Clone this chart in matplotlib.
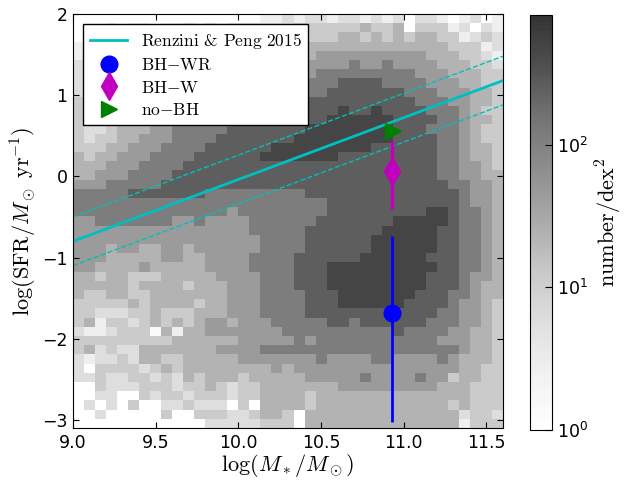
import os
import numpy as np
import matplotlib
matplotlib.use("Agg")
import matplotlib.pyplot as plt
from matplotlib.colors import LogNorm
from matplotlib.lines import Line2D
from matplotlib.font_manager import FontProperties

plt.rcParams["mathtext.fontset"] = "cm"
plt.rcParams["font.family"] = "DejaVu Sans"
plt.rcParams["xtick.direction"] = "in"
plt.rcParams["ytick.direction"] = "in"
plt.rcParams["xtick.top"] = True
plt.rcParams["ytick.right"] = True
plt.rcParams["xtick.major.size"] = 4
plt.rcParams["ytick.major.size"] = 4

cmr10 = os.path.join(matplotlib.get_data_path(), "fonts", "ttf", "cmr10.ttf")

# histogram bins (log M*, log SFR)
mass_edges = np.linspace(9.0, 11.6, 40)
sfr_edges = np.linspace(-3.1, 2.0, 46)

# grey level of every cell, top row first ('.' = empty)
# level -> number/dex^2
level_density = [1.4, 2.7, 5.8, 11.6, 22.6, 46, 118, 251, 472, 720]
cell_levels = [
    ". . . . . . . . . . . . . . . . . 1 1 2 1 2 2 1 2 2 1 2 1 2 . 2 2 1 . 1 2 . 1",
    ". . . 1 . 1 1 . 1 1 2 1 2 1 2 2 2 2 2 2 3 3 3 3 3 3 4 3 3 4 . 3 3 3 1 2 . 2 1",
    ". 1 . 1 1 1 2 1 2 2 2 2 2 2 2 3 3 3 3 3 3 3 3 3 4 4 3 4 3 4 3 4 4 3 3 1 2 3 2",
    "1 1 1 1 2 2 2 2 2 2 3 3 3 3 3 3 3 3 3 4 4 4 4 4 4 4 4 4 4 4 4 4 4 4 3 3 3 1 2",
    "1 1 2 2 2 2 2 3 3 3 3 3 3 4 4 4 4 4 4 4 4 4 5 5 5 5 5 5 5 5 5 5 4 4 4 3 3 2 1",
    "2 2 2 2 2 3 3 3 3 3 4 4 4 4 4 4 4 5 5 5 5 5 5 5 5 6 5 5 6 5 5 5 5 4 4 4 3 3 2",
    "2 2 2 3 3 3 3 3 4 4 4 4 4 5 5 5 5 5 5 5 5 5 6 6 6 6 6 6 6 6 6 5 5 5 4 4 4 3 3",
    "2 2 3 3 3 3 4 4 4 4 4 5 5 5 5 5 5 6 6 6 6 6 6 6 7 7 7 7 6 6 6 6 5 5 5 4 4 3 3",
    "2 3 3 3 3 4 4 4 4 5 5 5 5 5 6 6 6 6 6 6 6 6 6 7 7 7 7 7 7 7 6 6 6 5 5 5 4 4 3",
    "3 3 3 3 4 4 4 5 5 5 5 5 6 6 6 6 6 6 6 7 7 7 7 7 7 7 7 7 7 7 7 6 6 6 5 5 4 4 3",
    "3 3 3 4 4 4 5 5 5 5 6 6 6 6 6 6 7 7 7 7 7 7 7 7 8 7 7 8 7 7 7 7 6 6 6 5 4 3 3",
    "3 3 3 4 4 4 5 5 5 6 6 6 6 6 6 7 7 7 7 7 7 7 7 8 8 8 8 8 8 7 7 7 7 6 6 5 4 4 3",
    "3 2 2 3 4 4 4 5 5 6 6 6 6 6 7 7 7 7 7 7 7 8 8 8 8 8 8 8 8 7 7 7 6 6 6 5 4 3 3",
    "3 2 3 3 4 4 5 5 5 6 6 6 6 7 7 7 7 7 7 7 8 8 8 8 8 8 8 8 8 7 7 7 7 6 6 5 4 3 3",
    "3 3 3 4 4 5 5 5 6 6 6 6 7 7 7 7 7 7 8 8 8 8 8 8 8 8 8 7 7 7 7 7 7 6 6 5 4 4 3",
    "4 3 4 4 5 5 5 6 6 6 6 7 7 7 7 7 7 8 8 8 8 8 8 8 7 7 7 7 7 7 7 7 7 6 6 5 4 4 3",
    "4 4 4 5 5 5 6 6 6 6 7 7 7 7 7 7 7 7 7 7 7 7 7 7 7 7 7 7 7 7 7 7 7 6 6 5 5 4 3",
    "4 4 5 5 5 6 6 6 6 7 7 7 7 7 7 7 7 7 7 7 7 7 7 7 7 7 7 7 7 7 7 7 7 6 6 5 5 4 4",
    "5 5 5 6 6 6 6 6 7 7 7 7 7 7 7 7 7 7 7 7 7 7 7 7 7 7 7 7 7 7 7 7 7 7 6 6 5 5 4",
    "6 6 6 6 6 7 7 7 7 7 7 7 6 6 6 6 6 6 6 6 6 7 7 7 7 7 7 7 7 7 7 7 7 7 7 6 5 5 4",
    "6 6 6 6 6 6 6 6 6 6 6 6 6 6 6 6 6 6 6 6 6 6 6 7 7 7 7 7 7 7 7 7 7 7 7 6 5 5 4",
    "6 6 6 6 6 6 6 6 6 6 6 6 6 6 5 6 6 6 6 6 6 6 6 7 7 7 7 7 7 7 7 7 8 8 7 6 6 5 4",
    "5 5 6 6 6 6 6 6 6 5 5 6 5 5 5 5 6 6 6 6 6 6 7 7 7 7 7 7 7 8 8 8 8 8 7 6 6 5 4",
    "5 5 5 5 5 5 5 5 5 5 5 5 5 5 5 5 6 6 6 6 6 7 7 7 7 7 7 7 8 8 8 8 8 7 7 6 6 5 4",
    "5 5 5 5 5 5 5 5 5 5 5 5 5 5 5 5 5 6 6 6 6 7 7 7 7 7 7 8 8 8 8 8 8 7 7 6 6 5 4",
    "5 5 5 4 5 5 4 4 5 5 4 5 5 5 5 5 5 6 6 6 6 7 7 7 7 7 7 8 8 8 8 8 8 7 7 6 6 5 4",
    "5 5 5 4 4 4 4 4 5 5 4 4 5 5 5 5 6 6 6 6 7 7 7 7 7 7 8 8 8 8 8 8 7 7 7 6 6 5 4",
    "5 5 4 4 4 4 5 4 4 4 4 4 5 5 5 5 6 6 6 6 7 7 7 8 8 8 8 8 8 8 8 8 8 7 7 6 6 5 4",
    "4 4 3 4 4 3 3 3 4 4 4 4 4 5 5 5 5 6 6 6 7 7 7 8 8 8 8 8 8 8 8 8 7 7 7 6 5 5 4",
    "4 4 4 4 4 3 4 4 4 4 3 4 4 4 5 5 5 6 6 6 7 7 7 8 8 8 8 8 8 8 8 8 7 7 7 6 5 4 4",
    "4 3 3 4 4 3 3 4 4 4 4 4 4 4 5 5 5 6 6 6 6 7 7 7 8 8 8 8 8 8 8 7 7 7 6 6 5 4 4",
    "3 3 3 3 3 4 3 4 4 4 4 3 4 4 5 5 5 6 6 6 6 7 7 7 8 8 8 8 8 8 7 7 7 7 6 5 5 4 3",
    "3 3 2 2 2 3 3 4 3 3 3 4 4 4 5 5 5 6 6 6 6 7 7 7 7 7 7 7 7 7 7 7 7 6 6 5 5 4 3",
    "3 4 1 3 3 2 3 4 3 4 3 4 5 5 4 5 5 5 6 6 6 6 6 7 7 6 7 7 7 7 7 7 6 6 6 5 5 4 3",
    "2 1 1 2 3 3 3 0 4 1 4 4 5 5 5 5 5 5 5 6 6 6 6 6 6 6 6 6 6 7 6 6 6 6 5 5 4 4 3",
    "3 3 3 3 3 3 3 3 3 4 4 4 4 4 4 5 5 5 5 5 6 5 6 6 6 6 6 6 6 6 6 6 6 5 5 5 4 4 3",
    "3 4 2 3 2 2 4 4 4 4 4 4 4 5 5 5 5 6 6 6 6 6 6 6 6 6 6 6 6 6 6 6 6 6 6 5 4 4 3",
    "2 1 2 2 3 2 4 4 3 3 4 4 4 4 4 5 5 5 5 5 5 5 6 5 5 5 5 6 6 5 5 5 5 6 5 4 4 4 3",
    "2 . 3 3 3 3 2 3 4 3 4 4 4 4 4 4 4 4 5 4 5 5 5 5 5 5 5 5 5 5 5 5 5 5 5 4 4 3 3",
    "2 2 3 2 2 3 3 2 3 2 4 3 4 4 4 3 4 4 4 4 4 5 5 5 5 5 6 5 5 5 5 6 5 5 3 4 4 3 3",
    ". . 3 2 2 2 3 3 3 2 3 3 4 3 2 3 3 4 4 4 4 4 4 4 5 5 5 5 5 5 5 5 5 4 4 4 3 3 3",
    ". . 2 2 . . 3 2 3 3 2 3 3 3 2 3 3 4 4 4 4 3 4 4 4 4 4 4 4 4 4 4 4 4 4 4 3 3 3",
    ". 2 . 2 . 3 . . 2 2 3 2 2 2 . 3 . 4 4 4 4 3 4 4 4 4 4 4 4 4 4 4 4 4 3 4 3 3 3",
    ". . 2 . . . . . 3 . . 3 3 3 2 2 3 4 4 3 . 4 4 4 4 4 4 4 4 4 4 4 4 4 4 2 3 3 2",
    ". . . . . . . . . . . . 2 2 2 2 2 3 3 3 . 4 4 4 4 4 4 4 4 4 4 4 4 4 4 1 3 3 3",
]

# main sequence (Renzini & Peng 2015) and +-0.3 dex, read at the axis edges
ms_x = [9.0, 11.6]
ms_y = [-0.80, 1.18]
ms_upper = [-0.50, 1.48]
ms_lower = [-1.10, 0.88]

# stacked samples
bhwr_x, bhwr_y, bhwr_lo, bhwr_hi = 10.93, -1.68, -3.02, -0.74
bhw_x, bhw_y, bhw_lo, bhw_hi = 10.93, 0.07, -0.40, 0.43
nobh_x, nobh_y = 10.935, 0.555

density = np.array([[np.nan if c == "." else level_density[int(c)] for c in row.split()]
                    for row in cell_levels])[::-1]

fig = plt.figure(figsize=(6.29, 4.84), dpi=100)
ax = fig.add_axes([73 / 629, 1 - 428 / 484, 430 / 629, 414 / 484])
cax = fig.add_axes([530 / 629, 1 - 430 / 484, 22 / 629, 415 / 484])

mesh = ax.pcolormesh(mass_edges, sfr_edges, np.ma.masked_invalid(density),
                     cmap="Greys", norm=LogNorm(vmin=1, vmax=810), alpha=0.8,
                     edgecolors="none")

ax.plot(ms_x, ms_y, color="c", lw=2)
ax.plot(ms_x, ms_upper, color="c", lw=1, ls="--")
ax.plot(ms_x, ms_lower, color="c", lw=1, ls="--")

ax.errorbar([bhwr_x], [bhwr_y], yerr=[[bhwr_y - bhwr_lo], [bhwr_hi - bhwr_y]],
            fmt="o", color="b", ms=12, mec="b", elinewidth=2, capsize=0, zorder=5)
ax.errorbar([bhw_x], [bhw_y], yerr=[[bhw_y - bhw_lo], [bhw_hi - bhw_y]],
            fmt="d", color="m", ms=14, mec="m", elinewidth=2.5, capsize=0, zorder=5)
ax.plot([nobh_x], [nobh_y], ">", color="g", ms=12, mec="g", zorder=6)

ax.set_xlim(9.0, 11.6)
ax.set_ylim(-3.1, 2.0)
ax.set_xticks([9.0, 9.5, 10.0, 10.5, 11.0, 11.5])
ax.set_yticks([-3, -2, -1, 0, 1, 2])
ax.tick_params(labelsize=12.5, pad=4)
ax.set_xlabel(r"$\log(M_*/M_\odot)$", fontsize=16, labelpad=0)
ax.set_ylabel(r"$\log({\rm SFR}/M_\odot\ {\rm yr}^{-1})$", fontsize=16, labelpad=2)

handles = [
    Line2D([], [], color="c", lw=2),
    Line2D([], [], ls="none", marker="o", color="b", mec="b", ms=12),
    Line2D([], [], ls="none", marker="d", color="m", mec="m", ms=14),
    Line2D([], [], ls="none", marker=">", color="g", mec="g", ms=12),
]
labels = [r"$\rm Renzini$ & $\rm Peng\ 2015$", r"$\rm BH{-}WR$", r"$\rm BH{-}W$", r"$\rm no{-}BH$"]
leg = ax.legend(handles, labels, loc="upper left", numpoints=1,
                prop=FontProperties(fname=cmr10, size=12.5),
                fancybox=False, framealpha=1, borderaxespad=0.6, labelspacing=0.35,
                handlelength=2.1)
leg.get_frame().set_edgecolor("k")

cbar = fig.colorbar(mesh, cax=cax)
cbar.minorticks_off()
cbar.set_ticks([1, 10, 100])
cbar.ax.tick_params(labelsize=12.5, direction="in", length=5)
cbar.set_label(r"${\rm number/dex}^2$", fontsize=16, labelpad=4)

fig.savefig("out.png", dpi=100)
